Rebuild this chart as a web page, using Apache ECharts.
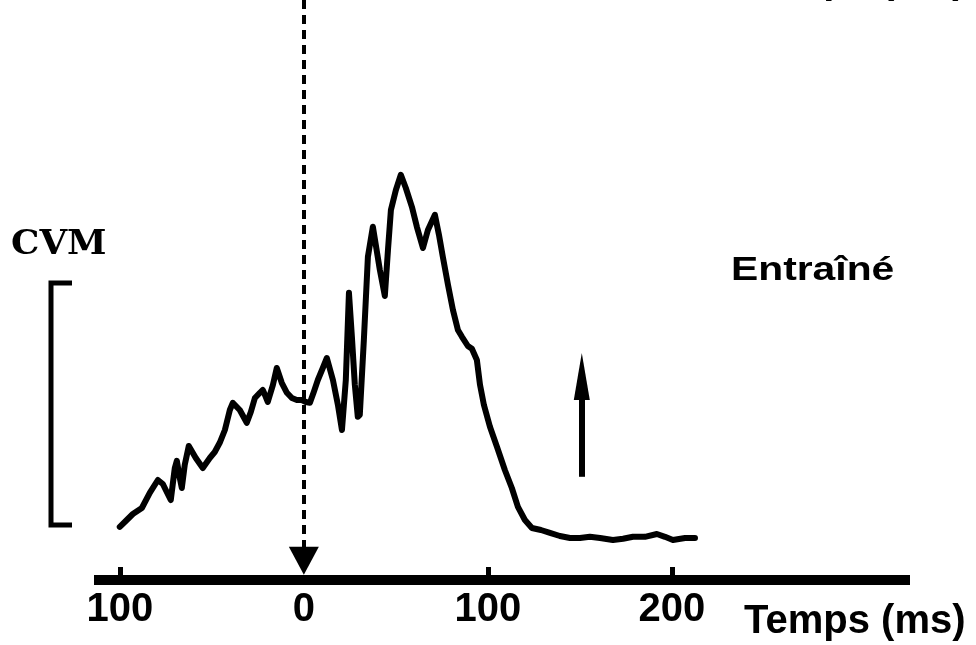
<!DOCTYPE html>
<html>
<head>
<meta charset="utf-8">
<script src="https://cdn.jsdelivr.net/npm/echarts@6/dist/echarts.min.js"></script>
<style>
  html, body { margin: 0; padding: 0; background: #ffffff; }
  #chart { width: 976px; height: 645px; }
</style>
</head>
<body>
<div id="chart"></div>
<script>
// Time relative to the event (ms) and the rectified EMG envelope (arbitrary units)
const timeMs = [
  -100.0, -96.2, -92.9, -88.0, -83.7, -79.3, -76.6, -75.0, -72.3, -70.1,
  -69.0, -67.4, -66.3, -64.7, -62.5, -58.7, -54.9, -51.1, -48.4, -45.7,
  -42.9, -40.2, -38.6, -34.8, -31.0, -28.8, -26.6, -23.9, -22.3, -20.7,
  -19.6, -16.8, -14.7, -12.0, -9.2, -6.5, -3.8, -1.1, 1.1, 3.3,
  5.4, 7.6, 10.3, 12.5, 15.8, 18.5, 20.7, 21.7, 22.8, 24.5,
  26.1, 27.7, 29.3, 30.4, 32.6, 34.8, 37.5, 41.3, 44.0, 45.7,
  47.3, 50.0, 52.7, 55.4, 58.7, 61.4, 64.7, 67.4, 71.2, 73.4,
  75.5, 78.3, 81.0, 83.7, 85.9, 89.1, 91.3, 94.0, 95.7, 97.8,
  101.1, 104.9, 109.2, 113.0, 116.3, 120.1, 123.9, 128.8, 133.7, 139.1,
  144.6, 150.0, 155.4, 160.9, 167.9, 173.4, 178.8, 185.3, 191.8, 196.2,
  200.5, 207.1, 212.5
];
const cvm = [
  13.3, 15.0, 16.5, 18.0, 21.8, 25.0, 24.0, 22.5, 20.0, 28.0,
  29.8, 25.5, 23.0, 28.8, 33.5, 30.5, 28.0, 30.5, 32.0, 34.3,
  37.5, 42.5, 44.3, 42.5, 39.3, 42.0, 45.5, 46.8, 47.5, 45.8,
  44.5, 48.8, 53.0, 49.3, 46.8, 45.5, 45.0, 45.0, 44.5, 44.3,
  47.0, 50.0, 53.0, 55.5, 50.0, 43.8, 37.5, 37.0, 50.0, 71.8,
  60.8, 48.8, 40.8, 41.3, 60.0, 80.8, 88.3, 77.5, 71.0, 82.5,
  92.5, 97.5, 101.3, 98.0, 93.3, 88.3, 83.0, 87.5, 91.3, 86.3,
  80.8, 73.8, 67.5, 62.5, 60.8, 58.5, 57.8, 55.0, 48.8, 43.8,
  38.3, 33.3, 27.5, 23.0, 18.3, 15.0, 13.0, 12.5, 11.8, 11.0,
  10.5, 10.5, 10.8, 10.5, 10.0, 10.3, 10.8, 10.8, 11.5, 10.8,
  10.0, 10.5, 10.5
];
const labelTicks = [-100, 0, 100, 200];
const markTicks = [-100, 100, 200];

const trace = timeMs.map((t, i) => [t, cvm[i]]);

const boldSans = '"Liberation Sans", Arial, sans-serif';

const chart = echarts.init(document.getElementById('chart'), null, { renderer: 'canvas' });

chart.setOption({
  animation: false,
  backgroundColor: '#ffffff',
  grid: { left: 94, right: 66, top: 0, bottom: 65 },
  xAxis: {
    type: 'value',
    min: -114,
    max: 329.3,
    splitLine: { show: false },
    axisLine: { show: true, lineStyle: { color: '#000', width: 10, cap: 'butt' } },
    axisTick: {
      show: true,
      inside: true,
      length: 13,
      customValues: markTicks,
      lineStyle: { color: '#000', width: 5 }
    },
    axisLabel: {
      customValues: labelTicks,
      formatter: v => String(Math.abs(v)),
      margin: 10,
      color: '#000',
      fontSize: 40,
      fontWeight: 'bold',
      fontFamily: boldSans
    }
  },
  yAxis: { type: 'value', min: 0, max: 145, show: false },
  series: [
    {
      name: 'CVM',
      type: 'line',
      data: trace,
      showSymbol: false,
      smooth: false,
      lineStyle: { color: '#000', width: 6, cap: 'round', join: 'round' }
    },
    {
      // stimulus onset: dashed line ending in a downward triangle at t = 0
      type: 'line',
      data: [],
      markLine: {
        silent: true,
        symbol: ['none', 'triangle'],
        symbolSize: [30, 28],
        label: { show: false },
        lineStyle: { color: '#000', width: 4, type: [9, 6], cap: 'butt' },
        data: [[{ coord: [0, 145] }, { coord: [0, 4.8] }]]
      }
    },
    {
      // upward arrow
      type: 'line',
      data: [],
      markLine: {
        silent: true,
        symbol: ['none', 'triangle'],
        symbolSize: [16, 47],
        label: { show: false },
        lineStyle: { color: '#000', width: 6, type: 'solid' },
        data: [[{ coord: [151, 25.8] }, { coord: [151, 50.9] }]]
      }
    }
  ],
  graphic: [
    {
      // calibration bracket
      type: 'polyline',
      shape: { points: [[72, 283], [51, 283], [51, 525], [72, 525]] },
      style: { stroke: '#000', lineWidth: 5, fill: null }
    },
    {
      type: 'text',
      x: 11, y: 245, scaleX: 1.05,
      style: {
        text: 'CVM', font: 'bold 34px "DejaVu Serif", serif',
        fill: '#000', verticalAlign: 'middle'
      }
    },
    {
      type: 'text',
      x: 731, y: 271, scaleX: 1.2,
      style: { text: 'Entraîné', font: 'bold 34px ' + boldSans, fill: '#000', verticalAlign: 'middle' }
    },
    {
      type: 'text',
      x: 744, y: 622,
      style: { text: 'Temps (ms)', font: 'bold 40px ' + boldSans, fill: '#000', verticalAlign: 'middle' }
    },
    {
      type: 'text',
      x: 744, y: -18,
      style: { text: 'Temps (ms)', font: 'bold 40px ' + boldSans, fill: '#000', verticalAlign: 'middle' }
    }
  ]
});
</script>
</body>
</html>
